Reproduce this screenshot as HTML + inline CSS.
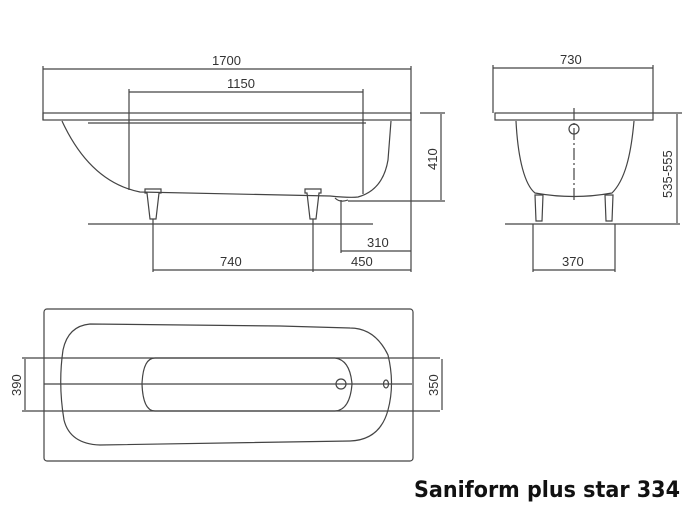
<!DOCTYPE html>
<html><head><meta charset="utf-8"><style>
html,body{margin:0;padding:0;background:#fff;width:695px;height:516px;overflow:hidden}
svg{display:block}
text{font-family:"Liberation Sans",sans-serif;font-size:13px;fill:#333}
</style></head><body>
<svg width="695" height="516" viewBox="0 0 695 516" xmlns="http://www.w3.org/2000/svg">
<g stroke="#444" stroke-width="1.2" fill="none">
<line x1="43" y1="69" x2="411" y2="69"/>
<line x1="43" y1="66" x2="43" y2="120"/>
<line x1="411" y1="66" x2="411" y2="272"/>
<line x1="129" y1="92" x2="363" y2="92"/>
<line x1="129" y1="89" x2="129" y2="190"/>
<line x1="363" y1="89" x2="363" y2="194"/>
<rect x="43" y="113" width="368" height="7"/>
<line x1="88" y1="123" x2="366" y2="123"/>
<path d="M62 121 C80 160 105 185 140 192 L330 196 Q350 198 358 197 Q383 190 388 160 L391 121"/>
<path d="M335 198 Q340 203 348 200"/>
<line x1="348" y1="201" x2="445" y2="201"/>
<line x1="420" y1="113" x2="445" y2="113"/>
<line x1="441" y1="114" x2="441" y2="200"/>
<line x1="88" y1="224" x2="373" y2="224"/>
<path d="M145 189 h16 v4 h-2 l-3 26 h-6 l-3 -26 h-2z"/>
<path d="M305 189 h16 v4 h-2 l-3 26 h-6 l-3 -26 h-2z"/>
<line x1="153" y1="219" x2="153" y2="272"/>
<line x1="313" y1="219" x2="313" y2="272"/>
<line x1="341" y1="200" x2="341" y2="253"/>
<line x1="341" y1="251" x2="411" y2="251"/>
<line x1="153" y1="270" x2="411" y2="270"/>
<line x1="493" y1="68" x2="653" y2="68"/>
<line x1="493" y1="65" x2="493" y2="113"/>
<line x1="653" y1="65" x2="653" y2="113"/>
<rect x="495" y="113" width="158" height="7"/>
<path d="M516 121 C518 160 525 185 535 193 Q574 200 612 193 C625 180 631 155 634 121"/>
<line x1="574" y1="108" x2="574" y2="200" stroke-dasharray="12 3 2 3"/>
<ellipse cx="574" cy="129" rx="5" ry="5"/>
<line x1="505" y1="224" x2="680" y2="224"/>
<line x1="653" y1="113" x2="682" y2="113"/>
<line x1="677" y1="114" x2="677" y2="223"/>
<path d="M535 195 l8 0 l-1 26 h-6z"/>
<path d="M605 195 l8 0 l-1 26 h-6z"/>
<line x1="533" y1="224" x2="533" y2="272"/>
<line x1="615" y1="224" x2="615" y2="272"/>
<line x1="533" y1="270" x2="615" y2="270"/>
<rect x="44" y="309" width="369" height="152" rx="3"/>
<path d="M90 324 Q68 326 63 350 Q58 384 64 420 Q70 444 100 445 L350 441 Q380 440 388 410 Q395 384 388 355 Q375 328 350 328 L280 326 Z"/>
<path d="M155 358 L335 358 Q350 360 352 384 Q350 410 335 411 L155 411 Q143 411 142 384 Q143 358 155 358 Z"/>
<line x1="44" y1="384" x2="412" y2="384"/>
<line x1="22" y1="358" x2="440" y2="358"/>
<line x1="22" y1="411" x2="440" y2="411"/>
<line x1="25" y1="359" x2="25" y2="410"/>
<line x1="442" y1="359" x2="442" y2="410"/>
<circle cx="341" cy="384" r="5"/>
<ellipse cx="386" cy="384" rx="2.5" ry="4"/>
</g>
<text x="212" y="65">1700</text>
<text x="227" y="88">1150</text>
<text x="220" y="266">740</text>
<text x="351" y="266">450</text>
<text x="367" y="247">310</text>
<text x="560" y="64">730</text>
<text x="562" y="266">370</text>
<text transform="translate(437,170) rotate(-90)">410</text>
<text transform="translate(672,198) rotate(-90)">535-555</text>
<text transform="translate(21,396) rotate(-90)">390</text>
<text transform="translate(438,396) rotate(-90)">350</text>
<text x="414" y="497" textLength="266" lengthAdjust="spacingAndGlyphs" style="font-size:22px;font-weight:bold;fill:#111;font-family:'DejaVu Sans Condensed','Liberation Sans',sans-serif">Saniform plus star 334</text>
</svg>
</body></html>
